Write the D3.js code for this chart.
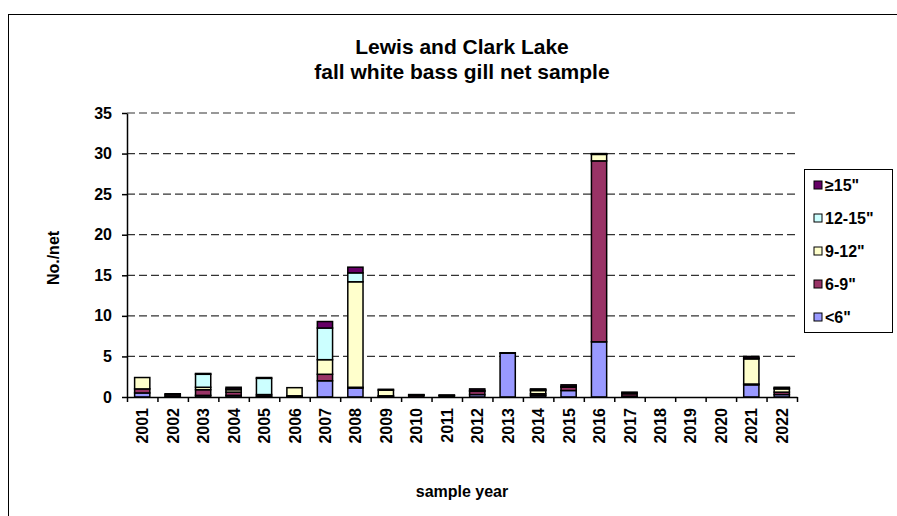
<!DOCTYPE html>
<html>
<head>
<meta charset="utf-8">
<script src="https://cdn.jsdelivr.net/npm/d3@7"></script>
<style>
  body { margin: 0; background: #fff; }
  text { font-family: "Liberation Sans", Arial, sans-serif; font-weight: bold; fill: #000; }
</style>
</head>
<body>
<div id="chart"></div>
<script>
var years = ["2001","2002","2003","2004","2005","2006","2007","2008","2009","2010","2011",
	"2012","2013","2014","2015","2016","2017","2018","2019","2020","2021","2022"];
// No./net by length group
var lt6    = [0.5, 0.1, 0.2, 0.2, 0.1, 0.05, 2.0, 1.1, 0.05, 0,    0,    0.3, 5.4,  0.2, 0.8, 6.8,  0.1, 0, 0, 0, 1.5, 0.3];
var s6to9  = [0.5, 0.2, 0.7, 0.4, 0.2, 0.1,  0.8, 0.1, 0.1,  0.2,  0.15, 0.4, 0,    0.2, 0.4, 22.3, 0.3, 0, 0, 0, 0.1, 0.3];
var s9to12 = [1.4, 0,   0.3, 0.3, 0,   1.0,  1.8, 13.0,0.7,  0.05, 0.05, 0.1, 0,    0.4, 0.1, 0.8,  0.1, 0, 0, 0, 3.1, 0.4];
var s12to15= [0,   0,   1.6, 0.1, 2.0, 0,    3.9, 1.1, 0,    0,    0,    0,   0,    0.1, 0,   0.05, 0,   0, 0, 0, 0.1, 0.1];
var ge15   = [0,   0.1, 0.1, 0.2, 0.1, 0,    0.8, 0.7, 0.1,  0.05, 0.05, 0.2, 0.05, 0.1, 0.2, 0.05, 0.1, 0, 0, 0, 0.2, 0.1];
var groups = ["<6\"", "6-9\"", "9-12\"", "12-15\"", "\u226515\""];
var colors = ["#9999FF", "#993366", "#FFFFCC", "#CCFFFF", "#660066"];
var yTicks = [0, 5, 10, 15, 20, 25, 30, 35];

var width = 897,
	height = 516,
	plotL = 127, plotR = 797, plotT = 113, plotB = 397;

var series = [lt6, s6to9, s9to12, s12to15, ge15];
var rows = years.map(function(yr, i) {
	var r = { year: yr };
	groups.forEach(function(g, j) { r[g] = series[j][i]; });
	return r;
});

var stack = d3.stack().keys(groups);
var layers = stack(rows);

var x = d3.scaleBand().domain(years).range([plotL, plotR]).paddingInner(0.5).paddingOuter(0.25);
var y = d3.scaleLinear().domain([0, 35]).range([plotB, plotT]);
var color = d3.scaleOrdinal().domain(groups).range(colors);

var svg = d3.select("#chart").append("svg")
	.attr("width", width)
	.attr("height", height);

// outer frame
svg.append("rect")
	.attr("x", 8.5).attr("y", 14.5)
	.attr("width", 920).attr("height", 540)
	.attr("fill", "none").attr("stroke", "#000").attr("stroke-width", 1);

// title
svg.append("text").attr("x", 462).attr("y", 54).attr("text-anchor", "middle")
	.style("font-size", "21px").text("Lewis and Clark Lake");
svg.append("text").attr("x", 462).attr("y", 79).attr("text-anchor", "middle")
	.style("font-size", "21px").text("fall white bass gill net sample");

// gridlines
svg.append("g").selectAll("line")
	.data(yTicks.filter(function(d) { return d > 0; }))
	.enter().append("line")
	.attr("x1", plotL).attr("x2", plotR)
	.attr("y1", function(d) { return y(d); })
	.attr("y2", function(d) { return y(d); })
	.attr("stroke", "#333").attr("stroke-width", 1.2)
	.attr("stroke-dasharray", "8,4");

// bars
svg.append("g").selectAll("g")
	.data(layers)
	.enter().append("g")
	.attr("fill", function(d) { return color(d.key); })
	.selectAll("rect")
	.data(function(d) { return d.filter(function(v) { return v[1] - v[0] > 0; }); })
	.enter().append("rect")
	.attr("x", function(d) { return x(d.data.year); })
	.attr("y", function(d) { return y(d[1]); })
	.attr("width", x.bandwidth())
	.attr("height", function(d) { return y(d[0]) - y(d[1]); })
	.attr("stroke", "#000")
	.attr("stroke-width", 1.5);

// y axis
var yAxis = svg.append("g")
	.attr("transform", "translate(" + plotL + ",0)")
	.call(d3.axisLeft(y).tickValues(yTicks).tickSize(5).tickSizeOuter(0).tickPadding(10));
yAxis.select(".domain").attr("stroke", "#000").attr("stroke-width", 1.5);
yAxis.selectAll(".tick line").attr("stroke", "#000").attr("stroke-width", 1.5);
yAxis.selectAll("text").style("font-size", "16px").style("font-family", "Liberation Sans, Arial, sans-serif").style("font-weight", "bold");

// x axis: ticks between categories
var xEdge = d3.scaleLinear().domain([0, years.length]).range([plotL, plotR]);
var xAxis = svg.append("g")
	.attr("transform", "translate(0," + plotB + ")")
	.call(d3.axisBottom(xEdge).tickValues(d3.range(0, years.length + 1)).tickSize(5).tickSizeOuter(0).tickFormat(""));
xAxis.select(".domain").attr("stroke", "#000").attr("stroke-width", 1.5);
xAxis.selectAll(".tick line").attr("stroke", "#000").attr("stroke-width", 1.5);

svg.append("g").selectAll("text")
	.data(years)
	.enter().append("text")
	.attr("transform", function(d) {
		return "translate(" + (x(d) + x.bandwidth() / 2 + 6) + "," + (plotB + 11) + ") rotate(-90)";
	})
	.attr("text-anchor", "end")
	.style("font-size", "16px")
	.text(function(d) { return d; });

// axis titles
svg.append("text").attr("x", 462).attr("y", 497).attr("text-anchor", "middle")
	.style("font-size", "16px").text("sample year");
svg.append("text")
	.attr("transform", "translate(59,258) rotate(-90)")
	.attr("text-anchor", "middle")
	.style("font-size", "16px").text("No./net");

// legend
var legend = svg.append("g");
legend.append("rect")
	.attr("x", 804.5).attr("y", 169.5).attr("width", 88).attr("height", 163)
	.attr("fill", "#fff").attr("stroke", "#000").attr("stroke-width", 1);
var items = legend.selectAll("g.item")
	.data(groups.slice().reverse())
	.enter().append("g")
	.attr("class", "item")
	.attr("transform", function(d, i) { return "translate(814," + (185 + i * 33) + ")"; });
items.append("rect")
	.attr("x", 0).attr("y", -4).attr("width", 8).attr("height", 8)
	.attr("fill", function(d) { return color(d); })
	.attr("stroke", "#000").attr("stroke-width", 1);
items.append("text")
	.attr("x", 11).attr("y", 6)
	.style("font-size", "16px")
	.text(function(d) { return d; });
</script>
</body>
</html>
